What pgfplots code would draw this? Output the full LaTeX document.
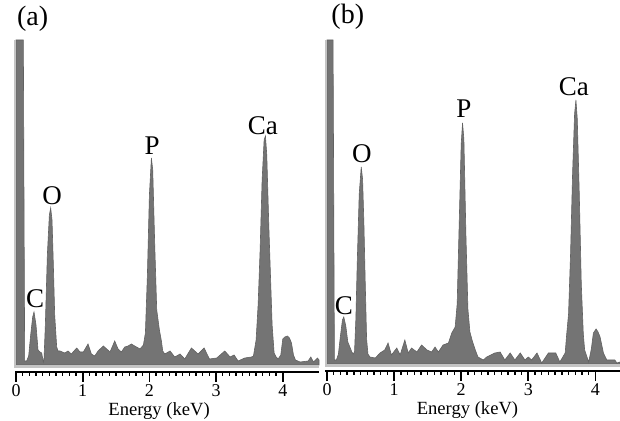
\documentclass[border=0pt]{standalone}
\usepackage{fontspec}
\setmainfont{Liberation Serif}
\usepackage{pgfplots}
\pgfplotsset{compat=1.18}
\definecolor{specfill}{HTML}{747474}
\definecolor{specedge}{HTML}{626262}
\definecolor{band}{HTML}{C4C4C4}

\newcommand{\tl}[1]{{\fontsize{9}{10}\selectfont #1}}

\pgfplotsset{
  eds/.style={
    scale only axis,
    anchor=south west,
    clip=false,
    axis line style={draw=none},
    ytick=\empty,
    xtick={0,1,2,3,4},
    xticklabels={\tl{0},\tl{1},\tl{2},\tl{3},\tl{4}},
    minor x tick num=9,
    xtick pos=lower,
    tick align=outside,
    major tick length=5pt,
    minor tick length=2pt,
    every major tick/.style={black, line width=0.8pt},
    every minor tick/.style={black, line width=0.7pt},
    ymin=-7,
    xticklabel style={inner sep=1pt},
  },
}
\tikzset{
  peak/.style={font=\fontsize{13.5}{14}\selectfont, anchor=center},
  elabel/.style={font=\fontsize{9.3}{10}\selectfont, anchor=center},
}

\begin{document}
\begin{tikzpicture}
\path[use as bounding box] (0,0) rectangle (310pt,210.5pt);

% ---- (a)
\begin{axis}[eds,
  at={(7.5pt,24.5pt)},
  width=152pt, height=173.5pt,
  xmin=-0.015, xmax=4.543, ymax=340,
]
\addplot[fill=specfill, draw=specedge, line width=0.3pt] coordinates {
  (0.00,325) (0.11,325) (0.13,4) (0.16,4) (0.19,9) (0.22,30) (0.25,48) (0.27,53)
  (0.30,40) (0.33,15) (0.36,13) (0.385,12) (0.41,3) (0.42,6) (0.44,40) (0.47,110)
  (0.50,150) (0.52,157) (0.54,145) (0.56,100) (0.58,50) (0.61,18) (0.63,14)
  (0.66,14) (0.73,12) (0.78,14) (0.83,11) (0.91,17) (0.96,13) (1.01,13) (1.08,21)
  (1.13,11) (1.18,9) (1.23,14) (1.31,19) (1.36,16) (1.41,13) (1.48,24) (1.53,16)
  (1.58,13) (1.63,18) (1.68,19) (1.73,21) (1.78,19) (1.86,16) (1.91,20) (1.94,32)
  (1.97,90) (2.00,170) (2.03,207) (2.05,195) (2.08,120) (2.11,55) (2.15,35)
  (2.18,24) (2.20,14) (2.23,11) (2.31,14) (2.38,8) (2.46,11) (2.53,6) (2.63,17)
  (2.73,11) (2.82,17) (2.90,6) (3.01,7) (3.13,14) (3.21,8) (3.27,10) (3.33,4)
  (3.43,7) (3.53,8) (3.56,9) (3.60,25) (3.63,60) (3.66,115) (3.69,185) (3.72,225)
  (3.74,229) (3.76,210) (3.79,140) (3.81,100) (3.84,40) (3.87,12) (3.90,8)
  (3.93,6) (3.97,10) (4.00,26) (4.03,28) (4.07,29) (4.10,27) (4.13,22) (4.16,10)
  (4.19,5) (4.26,3) (4.38,4) (4.42,8) (4.46,3) (4.52,7) (4.543,5)
} \closedcycle;
\fill[band] (axis cs:-0.015,0) rectangle (axis cs:4.543,-3);
\draw[band, line width=1.2pt] (axis cs:-0.012,-3) -- (axis cs:-0.012,325);
\draw[black, line width=1pt] (rel axis cs:0,0) -- (rel axis cs:1,0);
\node[peak] at (axis cs:0.285,66) {C};
\node[peak] at (axis cs:0.54,169) {O};
\node[peak] at (axis cs:2.04,219) {P};
\node[peak] at (axis cs:3.70,239) {Ca};
\node[font=\fontsize{14}{15}\selectfont, anchor=center] at (axis cs:0.25,346) {(a)};
\node[elabel] at ([yshift=-19.3pt]rel axis cs:0.474,0) {Energy (keV)};
\end{axis}

% ---- (b)
\begin{axis}[eds,
  at={(162.5pt,25pt)},
  width=147.5pt, height=173pt,
  xmin=-0.03, xmax=4.367, ymax=339,
]
\addplot[fill=specfill, draw=specedge, line width=0.3pt] coordinates {
  (0.00,324) (0.09,324) (0.11,4) (0.14,4) (0.17,10) (0.20,28) (0.23,44) (0.25,47)
  (0.28,38) (0.31,22) (0.34,17) (0.37,12) (0.39,10) (0.41,12) (0.43,45) (0.45,100)
  (0.48,170) (0.51,197) (0.53,185) (0.55,140) (0.57,80) (0.59,25) (0.61,10)
  (0.64,7) (0.72,6) (0.79,11) (0.86,14) (0.91,21) (0.96,9) (1.04,16) (1.09,9)
  (1.16,24) (1.21,11) (1.26,16) (1.34,12) (1.41,19) (1.49,14) (1.56,12) (1.61,17)
  (1.66,12) (1.73,19) (1.81,21) (1.86,31) (1.91,37) (1.94,60) (1.97,140)
  (2.00,220) (2.02,241) (2.04,225) (2.07,130) (2.10,55) (2.13,32) (2.17,22)
  (2.21,14) (2.25,7) (2.33,4) (2.38,7) (2.50,11) (2.58,12) (2.65,4) (2.73,11)
  (2.80,4) (2.88,11) (2.95,4) (3.00,7) (3.05,4) (3.13,11) (3.20,1) (3.30,11)
  (3.37,11) (3.41,11) (3.47,2) (3.55,11) (3.57,28) (3.60,50) (3.63,110)
  (3.66,190) (3.69,250) (3.71,264) (3.73,245) (3.76,170) (3.79,80) (3.82,30)
  (3.84,14) (3.90,2) (3.94,15) (3.97,31) (4.01,35) (4.04,32) (4.07,27) (4.12,11)
  (4.17,4) (4.29,4) (4.32,1) (4.367,2)
} \closedcycle;
\fill[band] (axis cs:-0.03,0) rectangle (axis cs:4.367,-3);
\draw[band, line width=1.2pt] (axis cs:-0.012,-3) -- (axis cs:-0.012,324);
\draw[black, line width=1pt] (rel axis cs:0,0) -- (rel axis cs:1,0);
\node[peak] at (axis cs:0.25,58) {C};
\node[peak] at (axis cs:0.52,210) {O};
\node[peak] at (axis cs:2.04,255) {P};
\node[peak] at (axis cs:3.68,277) {Ca};
\node[font=\fontsize{14}{15}\selectfont, anchor=center] at (axis cs:0.31,347) {(b)};
\node[elabel] at ([yshift=-19.3pt]rel axis cs:0.483,0) {Energy (keV)};
\end{axis}
\end{tikzpicture}
\end{document}
